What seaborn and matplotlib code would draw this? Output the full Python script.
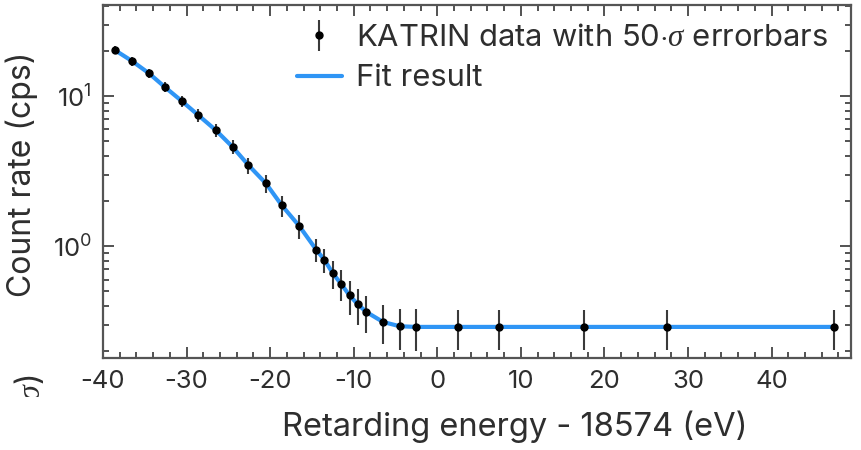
import matplotlib
matplotlib.use("Agg")
import matplotlib.pyplot as plt
import seaborn as sns
import numpy as np
import pandas as pd
from matplotlib.ticker import MultipleLocator, LogLocator
from matplotlib.patches import Rectangle

# ---- data ----
energy = [-38.6, -36.5, -34.5, -32.6, -30.6, -28.6, -26.5, -24.5, -22.6,
          -20.5, -18.6, -16.5, -14.5, -13.5, -12.5, -11.5, -10.5, -9.5,
          -8.5, -6.5, -4.5, -2.6, 2.5, 7.4, 17.5, 27.5, 47.5]
rate = [20.3, 17.1, 14.2, 11.5, 9.3, 7.47, 5.93, 4.59, 3.47,
        2.62, 1.87, 1.36, 0.95, 0.81, 0.66, 0.56, 0.47, 0.41,
        0.365, 0.313, 0.293, 0.290, 0.290, 0.290, 0.290, 0.290, 0.290]
rate_err = [1.2, 1.1, 1.0, 0.9, 0.8, 0.7, 0.6, 0.5, 0.42,
            0.36, 0.30, 0.25, 0.16, 0.15, 0.14, 0.13, 0.12, 0.11,
            0.10, 0.09, 0.09, 0.09, 0.085, 0.085, 0.085, 0.085, 0.085]
fit_rate = [20.3, 17.1, 14.2, 11.5, 9.3, 7.47, 5.93, 4.59, 3.47,
            2.62, 1.87, 1.36, 0.95, 0.81, 0.66, 0.56, 0.47, 0.41,
            0.365, 0.313, 0.293, 0.290, 0.290, 0.290, 0.290, 0.290, 0.290]
x_ticks = [-40, -30, -20, -10, 0, 10, 20, 30, 40]

df = pd.DataFrame({"energy": energy, "rate": rate, "err": rate_err, "fit": fit_rate})

sns.set_theme(style="ticks")
plt.rcParams["font.family"] = ["Inter", "DejaVu Sans"]
plt.rcParams["axes.unicode_minus"] = False
plt.rcParams["mathtext.fontset"] = "custom"
plt.rcParams["mathtext.rm"] = "Inter"
plt.rcParams["mathtext.it"] = "Liberation Serif:italic"
plt.rcParams["mathtext.bf"] = "Inter:bold"

txt = "#2e2e2e"
spine_c = "#555555"

fig = plt.figure(figsize=(8.61, 4.5), dpi=100)
ax = fig.add_axes([103 / 861, 1 - 358 / 450, 748 / 861, 353 / 450])

sns.lineplot(data=df, x="energy", y="fit", ax=ax, color="#2f95f5", lw=3.0,
             label="Fit result", zorder=2, sort=True)
ax.errorbar(df["energy"], df["rate"], yerr=df["err"], fmt="o", color="black",
            ms=5, ecolor="#3a3a3a", elinewidth=1.5, capsize=0, zorder=3,
            label=r"KATRIN data with 50$\cdot\sigma$ errorbars")

ax.set_yscale("log")
ax.set_xlim(-40, 49.5)
ax.set_ylim(0.18, 40.5)
ax.set_xticks(x_ticks)
ax.xaxis.set_minor_locator(MultipleLocator(2))
ax.yaxis.set_major_locator(LogLocator(base=10, numticks=10))
ax.yaxis.set_minor_locator(LogLocator(base=10, subs=np.arange(2, 10) * 1.0, numticks=100))

ax.tick_params(which="both", direction="in", top=True, right=True, color="#444444")
ax.tick_params(which="major", length=8, width=1.3, labelsize=18.5, labelcolor=txt)
ax.tick_params(which="minor", length=4.5, width=1.3)
ax.tick_params(axis="x", which="major", pad=9)
ax.tick_params(axis="y", which="major", pad=8)
for s in ax.spines.values():
    s.set_color(spine_c)
    s.set_linewidth(1.6)

ax.set_xlabel("Retarding energy - 18574 (eV)", fontsize=23.5, color=txt)
ax.set_ylabel("Count rate (cps)", fontsize=23, color=txt)
ax.xaxis.set_label_coords(0.551, -0.15)
ax.yaxis.set_label_coords(-0.087, 0.52)

handles, labels = ax.get_legend_handles_labels()
order = [labels.index(r"KATRIN data with 50$\cdot\sigma$ errorbars"), labels.index("Fit result")]
leg = ax.legend([handles[i] for i in order], [labels[i] for i in order],
                loc="upper left", bbox_to_anchor=(297 / 861, 1 - 24 / 450),
                bbox_transform=fig.transFigure, frameon=False, fontsize=22.3,
                borderaxespad=0, borderpad=0, handlelength=1.45,
                handletextpad=0.45, labelspacing=0.4)
for t in leg.get_texts():
    t.set_color(txt)

# clipped fragment of a lower panel's axis label
fig.text(30 / 861, 1 - 374 / 450, r"($\sigma$)", rotation=90, ha="center", va="top",
         fontsize=23, color=txt)
fig.patches.append(Rectangle((0, 0), 70 / 861, 1 - 397 / 450, transform=fig.transFigure,
                             facecolor="white", edgecolor="none", zorder=10))

fig.savefig("out.png", dpi=100)
